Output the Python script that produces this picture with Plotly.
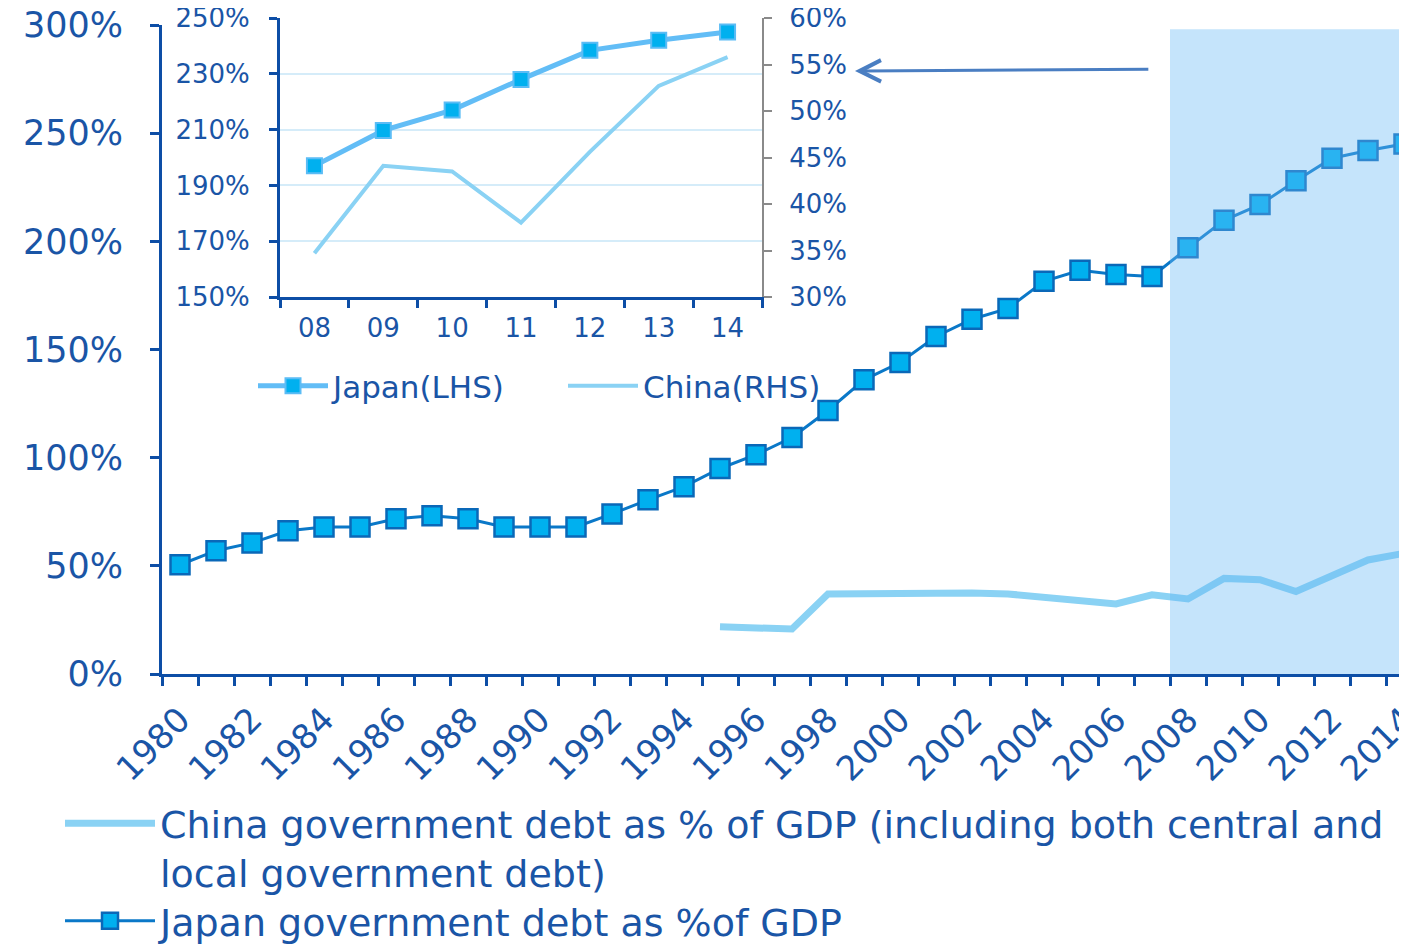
import plotly.graph_objects as go

# ---- data ----
years = list(range(1980, 2015))
japan = [50.5, 57, 60.6, 66.2, 68, 68, 71.8, 73.1, 71.8, 68, 68, 68, 74, 80.5, 86.6,
         95, 101.4, 109.3, 121.8, 136, 144, 156, 164, 169, 181.5, 186.6, 184.7, 183.8,
         197, 209.7, 217, 228, 238.4, 242, 245]
china_years = list(range(1995, 2015))
china = [21.8, 21.6, 20.8, 37, 37.3, 37, 37.3, 37.4, 37, 35.6, 34.4, 32.4, 36.6, 34.7,
         44.2, 43.6, 38.1, 45.6, 52.7, 55.8]
inset_years = list(range(2008, 2015))
inset_labels = ["08", "09", "10", "11", "12", "13", "14"]
inset_japan = [197, 209.7, 217, 228, 238.4, 242, 245]
inset_china = [34.7, 44.1, 43.5, 38.0, 45.6, 52.7, 55.8]
main_ticks = [0, 50, 100, 150, 200, 250, 300]
xlabel_years = list(range(1980, 2015, 2))

FONT = "DejaVu Sans"
TXT = "#1a55a6"
AX = "#0d4ea6"

fig = go.Figure()

fig.add_trace(go.Scatter(
    x=china_years, y=china, mode="lines", name="China government debt as % of GDP (including both central and<br>local government debt)",
    line=dict(color="#8ad2f4", width=7), legend="legend"))
fig.add_trace(go.Scatter(
    x=years, y=japan, mode="lines+markers", name="Japan government debt as %of GDP",
    line=dict(color="#0a78c8", width=3),
    marker=dict(symbol="square", size=19, color="#00b0ef", line=dict(color="#0a68b8", width=2.5)),
    legend="legend3"))

# inset
fig.add_trace(go.Scatter(
    x=inset_years, y=inset_japan, mode="lines+markers", name="Japan(LHS)",
    xaxis="x2", yaxis="y2",
    line=dict(color="#62bdf6", width=5),
    marker=dict(symbol="square", size=15, color="#00b0ef", line=dict(color="#5bbcf5", width=2)),
    legend="legend2", legendrank=1))
fig.add_trace(go.Scatter(
    x=inset_years, y=inset_china, mode="lines", name="China(RHS)",
    xaxis="x2", yaxis="y3",
    line=dict(color="#8ad2f4", width=4),
    legend="legend2", legendrank=2))

# page has an 8px body margin: screen x = 8 + fig x
L, T, B = 154, 10, 270
FW, FH = 1399, 936
plot_w = FW - L
plot_h = FH - T - B
xr1 = 1979.5 + plot_w / 36.0


def px(sx):
    return (sx - 162) / plot_w


def py(sy):
    return (674 - sy) / plot_h


fig.update_layout(
    width=FW, height=FH, showlegend=True,
    margin=dict(l=L, r=0, t=T, b=B, autoexpand=False),
    paper_bgcolor="white", plot_bgcolor="white",
    font=dict(family=FONT, color=TXT),
    xaxis=dict(
        range=[1979.5, xr1], tickvals=xlabel_years, ticktext=[str(y) for y in xlabel_years],
        tickangle=-45, ticks="outside", ticklen=9, tickcolor="rgba(0,0,0,0)",
        showgrid=False, zeroline=False, showline=True, linecolor=AX, linewidth=3,
        tickfont=dict(size=34, color=TXT, family=FONT), automargin=False,
        ticklabeloverflow="allow",
        minor=dict(tickvals=[1979.5 + k for k in range(36)], ticks="outside", ticklen=9,
                   tickwidth=3, tickcolor=AX, showgrid=False),
    ),
    yaxis=dict(
        range=[0, 300], domain=[0, 649 / plot_h], tickvals=main_ticks,
        ticktext=[f"{v}%" for v in main_ticks],
        ticks="outside", ticklen=9, tickwidth=3, tickcolor=AX, ticklabelstandoff=20,
        showgrid=False, zeroline=False, showline=True, linecolor=AX, linewidth=3,
        tickfont=dict(size=35, color=TXT, family=FONT), automargin=False,
        ticklabeloverflow="allow",
    ),
    xaxis2=dict(
        domain=[px(280), px(762)], anchor="y2",
        range=[2007.5, 2014.5], tickvals=inset_years, ticktext=inset_labels,
        ticks="outside", ticklen=6, tickcolor="rgba(0,0,0,0)",
        showgrid=False, zeroline=False, showline=True, linecolor=AX, linewidth=3,
        tickfont=dict(size=26, color=TXT, family=FONT), automargin=False,
        ticklabeloverflow="allow",
        minor=dict(tickvals=[2007.5 + k for k in range(8)], ticks="outside", ticklen=8,
                   tickwidth=3, tickcolor=AX, showgrid=False),
    ),
    yaxis2=dict(
        domain=[py(297), 1.0], anchor="x2",
        range=[150, 250], dtick=20, tick0=150, ticksuffix="%",
        ticks="outside", ticklen=8, tickwidth=3, tickcolor=AX, ticklabelstandoff=14,
        showgrid=True, gridcolor="#d5ecf9", gridwidth=1.5,
        zeroline=False, showline=True, linecolor=AX, linewidth=3,
        tickfont=dict(size=26, color=TXT, family=FONT), automargin=False,
        ticklabeloverflow="allow",
    ),
    yaxis3=dict(
        overlaying="y2", anchor="x2", side="right",
        range=[30, 60], dtick=5, tick0=30, ticksuffix="%",
        ticks="outside", ticklen=8, tickwidth=2, tickcolor="#8a8a8a", ticklabelstandoff=12,
        showgrid=False, zeroline=False, showline=True, linecolor="#8a8a8a", linewidth=2,
        tickfont=dict(size=26, color=TXT, family=FONT), automargin=False,
        ticklabeloverflow="allow",
    ),
    legend=dict(
        x=px(60), y=py(792), xanchor="left", yanchor="top",
        orientation="v", font=dict(size=38, color=TXT, family=FONT), valign="top",
        itemwidth=90, bgcolor="rgba(0,0,0,0)", visible=True,
    ),
    legend3=dict(
        x=px(60), y=py(921), xanchor="left", yanchor="middle",
        orientation="v", font=dict(size=38, color=TXT, family=FONT),
        itemwidth=90, bgcolor="rgba(0,0,0,0)",
    ),
    legend2=dict(
        x=px(253), y=py(386), xanchor="left", yanchor="middle",
        orientation="h", font=dict(size=31, color=TXT, family=FONT),
        itemwidth=70, entrywidth=225, entrywidthmode="pixels", bgcolor="rgba(0,0,0,0)",
    ),
    shapes=[dict(
        type="rect", xref="x", yref="y", x0=2007.5, x1=xr1, y0=0, y1=298,
        fillcolor="#6ab9f5", opacity=0.39, line=dict(width=0), layer="above")],
    annotations=[dict(
        x=1998.75, y=278.7, ax=2006.94, ay=279.6, xref="x", yref="y", axref="x", ayref="y",
        text="", showarrow=True, arrowhead=5, arrowsize=1.4, arrowwidth=3,
        arrowcolor="#4a7ec2")],
)

fig.write_html("out.html")
